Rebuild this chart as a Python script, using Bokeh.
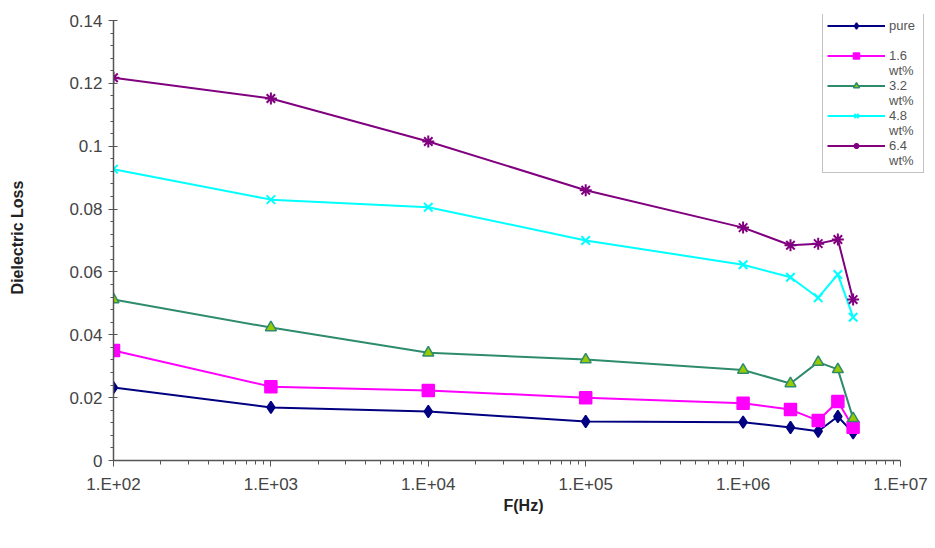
from bokeh.plotting import figure
from bokeh.models import (Range1d, FixedTicker, SingleIntervalTicker, CustomJSTickFormatter,
                          Legend, LegendItem)
from bokeh.embed import file_html
from bokeh.resources import INLINE

# ---- data ----
freq = [1e2, 1e3, 1e4, 1e5, 1e6, 2e6, 3e6, 4e6, 5e6]
pure = [0.0232, 0.0169, 0.0156, 0.0124, 0.0122, 0.0105, 0.0093, 0.0140, 0.0088]
wt16 = [0.0350, 0.0235, 0.0223, 0.0200, 0.0182, 0.0162, 0.0127, 0.0188, 0.0106]
wt32 = [0.0512, 0.0423, 0.0343, 0.0321, 0.0288, 0.0245, 0.0313, 0.0290, 0.0134]
wt48 = [0.0927, 0.0830, 0.0806, 0.0700, 0.0623, 0.0583, 0.0518, 0.0592, 0.0456]
wt64 = [0.1218, 0.1152, 0.1015, 0.0860, 0.0741, 0.0685, 0.0690, 0.0703, 0.0512]
series_names = ["pure", "1.6", "3.2", "4.8", "6.4"]
second_lines = [" ", "wt%", "wt%", "wt%", "wt%"]
x_major = [1e2, 1e3, 1e4, 1e5, 1e6, 1e7]
y_max = 0.14

FONT = "Liberation Sans"

# frame: x 113..933 px with 1e7 at 900 px; y 14..460 px with 0.14 at 20 px
x_end = 10 ** (2 + 5 * 820 / 787)
y_end = y_max * 446 / 440

p = figure(width=935, height=548, x_axis_type="log", output_backend="svg",
           toolbar_location=None, x_range=Range1d(1e2, x_end), y_range=Range1d(0, y_end),
           min_border_left=113, min_border_right=2, min_border_top=14, min_border_bottom=88)
p.outline_line_color = None
p.xgrid.visible = False
p.ygrid.visible = False
p.background_fill_color = "white"

styles = [
    dict(data=pure, color="#000080", marker="diamond", fill="#000080", size=12),
    dict(data=wt16, color="#FF00FF", marker="square", fill="#FF00FF", size=12),
    dict(data=wt32, color="#2E8B6E", marker="triangle", fill="#99CC00", size=11),
    dict(data=wt48, color="#00FFFF", marker="x", fill=None, size=12),
    dict(data=wt64, color="#800080", marker="asterisk", fill=None, size=12),
]

items = []
for name, second, s in zip(series_names, second_lines, styles):
    ln = p.line(freq, s["data"], line_color=s["color"], line_width=2)
    if s["fill"] is None:
        mk = p.scatter(freq, s["data"], marker=s["marker"], size=s["size"],
                       line_color=s["color"], line_width=2)
    else:
        mk = p.scatter(freq, s["data"], marker=s["marker"], size=s["size"],
                       line_color=s["color"], fill_color=s["fill"], line_width=1.5)
    items.append(LegendItem(label=name, renderers=[ln, mk]))
    # invisible spacer renderer carrying the wrapped second line of the label
    spacer = p.line(x=[], y=[], line_alpha=0)
    items.append(LegendItem(label=second, renderers=[spacer]))

legend = Legend(items=items, location=(709, 287), label_text_font=FONT,
                label_text_font_size="13px", label_text_color="#555555",
                border_line_color="#888888", border_line_width=1.5,
                glyph_width=58, glyph_height=15, label_height=15, label_width=30,
                spacing=0, padding=4, margin=0, label_standoff=4,
                background_fill_alpha=1)
p.add_layout(legend, "center")

# axes
p.xaxis.ticker = FixedTicker(ticks=x_major,
                             minor_ticks=[m * 10 ** e for e in range(2, 7) for m in range(2, 10)])
p.xaxis.formatter = CustomJSTickFormatter(
    code="return '1.E+' + String(Math.round(Math.log10(tick))).padStart(2, '0');")
p.xaxis.bounds = (x_major[0], x_major[-1])
p.yaxis.ticker = SingleIntervalTicker(interval=0.02, num_minor_ticks=5)
p.yaxis.formatter = CustomJSTickFormatter(code="return String(Number(tick.toFixed(2)));")
p.yaxis.bounds = (0, y_max)

for ax in (p.xaxis[0], p.yaxis[0]):
    ax.axis_line_color = "#555555"
    ax.axis_line_width = 1.5
    ax.major_tick_line_color = "#555555"
    ax.minor_tick_line_color = "#555555"
    ax.major_label_text_font = FONT
    ax.major_label_text_font_size = "17px"
    ax.major_label_text_color = "#444444"
    ax.axis_label_text_font = FONT
    ax.axis_label_text_font_size = "16px"
    ax.axis_label_text_font_style = "bold"
    ax.axis_label_text_color = "#222222"

p.xaxis.axis_label = "F(Hz)"
p.yaxis.axis_label = "Dielectric Loss"
p.xaxis.major_tick_in = 0
p.xaxis.major_tick_out = 6
p.xaxis.minor_tick_in = 0
p.xaxis.minor_tick_out = 4
p.xaxis.major_label_standoff = 8
p.xaxis.axis_label_standoff = 0
p.yaxis.major_tick_in = 4
p.yaxis.major_tick_out = 5
p.yaxis.minor_tick_in = 0
p.yaxis.minor_tick_out = 3
p.yaxis.major_label_standoff = 6
p.yaxis.axis_label_standoff = 40

open("out.html", "w").write(file_html(p, INLINE))
